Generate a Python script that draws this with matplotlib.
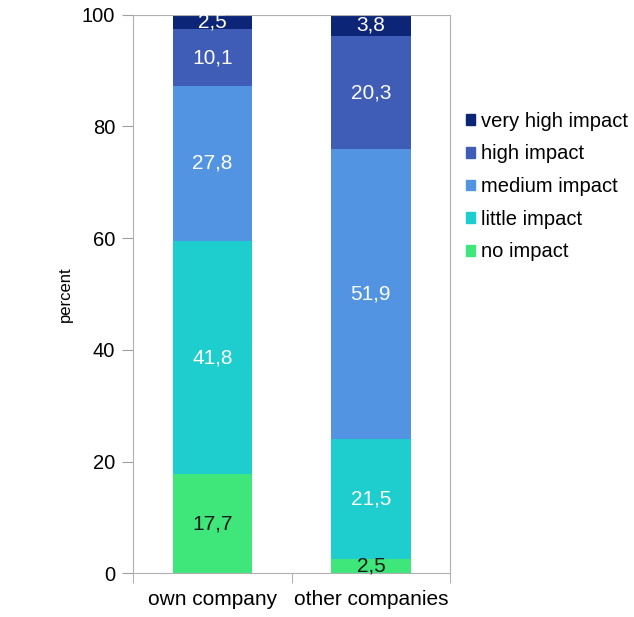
import matplotlib
matplotlib.use("Agg")
import matplotlib.pyplot as plt
from matplotlib.patches import Patch

plt.rcParams["font.family"] = ["Liberation Sans", "DejaVu Sans"]

categories = ["own company", "other companies"]
levels = ["no impact", "little impact", "medium impact", "high impact", "very high impact"]
own_company = [17.7, 41.8, 27.8, 10.1, 2.5]
other_companies = [2.5, 21.5, 51.9, 20.3, 3.8]
colors = ["#3fe77b", "#1ecdcd", "#5294e2", "#3f5cb6", "#0c2577"]
text_colors = ["#1a1a1a", "white", "white", "white", "white"]

fig = plt.figure(figsize=(6.34, 6.17), dpi=100)
ax = fig.add_axes([0.21, 0.071, 0.50, 0.905])

values = [own_company, other_companies]
x = [0, 1]
bottoms = [0.0, 0.0]
for i, lvl in enumerate(levels):
    heights = [v[i] for v in values]
    ax.bar(x, heights, width=0.5, bottom=bottoms, color=colors[i], label=lvl)
    for j in x:
        tc = text_colors[i]
        if i == 0 and j == 1:
            tc = "#1a1a1a"
        ax.text(j, bottoms[j] + heights[j] / 2, f"{heights[j]:.1f}".replace(".", ","),
                ha="center", va="center", fontsize=15, color=tc)
    bottoms = [b + h for b, h in zip(bottoms, heights)]

ax.set_xlim(-0.5, 1.5)
ax.set_ylim(0, 100)
ax.set_yticks(range(0, 101, 20))
ax.set_xticks([0, 1])
ax.set_xticklabels(categories)
ax.set_xticks([-0.5, 0.5, 1.5], minor=True)
ax.tick_params(axis="x", which="major", length=0, pad=12, labelsize=15)
ax.tick_params(axis="x", which="minor", length=7, color="#a0a0a0")
ax.tick_params(axis="y", length=8, color="#a0a0a0", labelsize=14.5, pad=5)
ax.set_ylabel("percent", fontsize=12, labelpad=6)
for s in ax.spines.values():
    s.set_color("#b0b0b0")

handles = [Patch(color=colors[i], label=levels[i]) for i in range(4, -1, -1)]
fig.legend(handles=handles, loc="upper left", bbox_to_anchor=(0.722, 0.832),
           frameon=False, fontsize=14.5, handlelength=0.45, handleheight=0.45,
           handletextpad=0.3, labelspacing=0.68, borderaxespad=0)

fig.savefig("out.png", dpi=100)
